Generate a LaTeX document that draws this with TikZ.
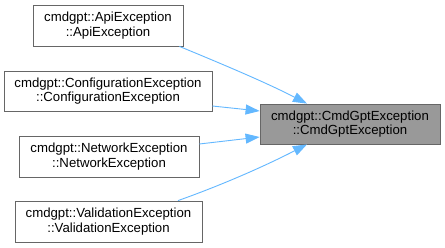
\documentclass[tikz,border=0pt]{standalone}
\usepackage{fontspec}
\setmainfont{Liberation Sans}
\usetikzlibrary{arrows.meta}
\definecolor{edgeblue}{HTML}{63B8FF}
\definecolor{boxline}{HTML}{666666}
\definecolor{focusfill}{HTML}{999999}
\begin{document}
\begin{tikzpicture}[x=1pt,y=1pt,
  classbox/.style={draw=boxline, line width=0.8pt, fill=white, inner sep=0pt,
    align=center, font=\fontsize{13.2}{14.6}\selectfont},
  focusbox/.style={classbox, fill=focusfill},
  edge/.style={draw=edgeblue, line width=0.9pt,
    -{Triangle[length=14pt,width=10pt]}}]
\useasboundingbox (0,0) rectangle (445,-247);
\fill[white] (0,0) rectangle (445,-247);

\node[classbox, minimum width=150pt, minimum height=41pt] (api) at (108,-25.5)
  {cmdgpt::ApiException\\::ApiException};
\node[classbox, minimum width=208pt, minimum height=40pt] (config) at (108,-91)
  {cmdgpt::ConfigurationException\\::ConfigurationException};
\node[classbox, minimum width=180pt, minimum height=41pt] (network) at (109,-156.5)
  {cmdgpt::NetworkException\\::NetworkException};
\node[classbox, minimum width=187pt, minimum height=41pt] (valid) at (108.5,-221.5)
  {cmdgpt::ValidationException\\::ValidationException};
\node[focusbox, minimum width=180pt, minimum height=40pt] (base) at (350,-124)
  {cmdgpt::CmdGptException\\::CmdGptException};

\draw[edge] ([xshift=-4pt]api.south east) .. controls (222,-64) and (265,-82) .. ([xshift=-43pt]base.north);
\draw[edge] ([yshift=-15pt]config.east) -- ([yshift=13pt]base.west);
\draw[edge] ([yshift=12.5pt]network.east) -- ([yshift=-13pt]base.west);
\draw[edge] ([xshift=69.5pt]valid.north) .. controls (222,-185) and (265,-166) .. ([xshift=-43pt]base.south);
\end{tikzpicture}
\end{document}
